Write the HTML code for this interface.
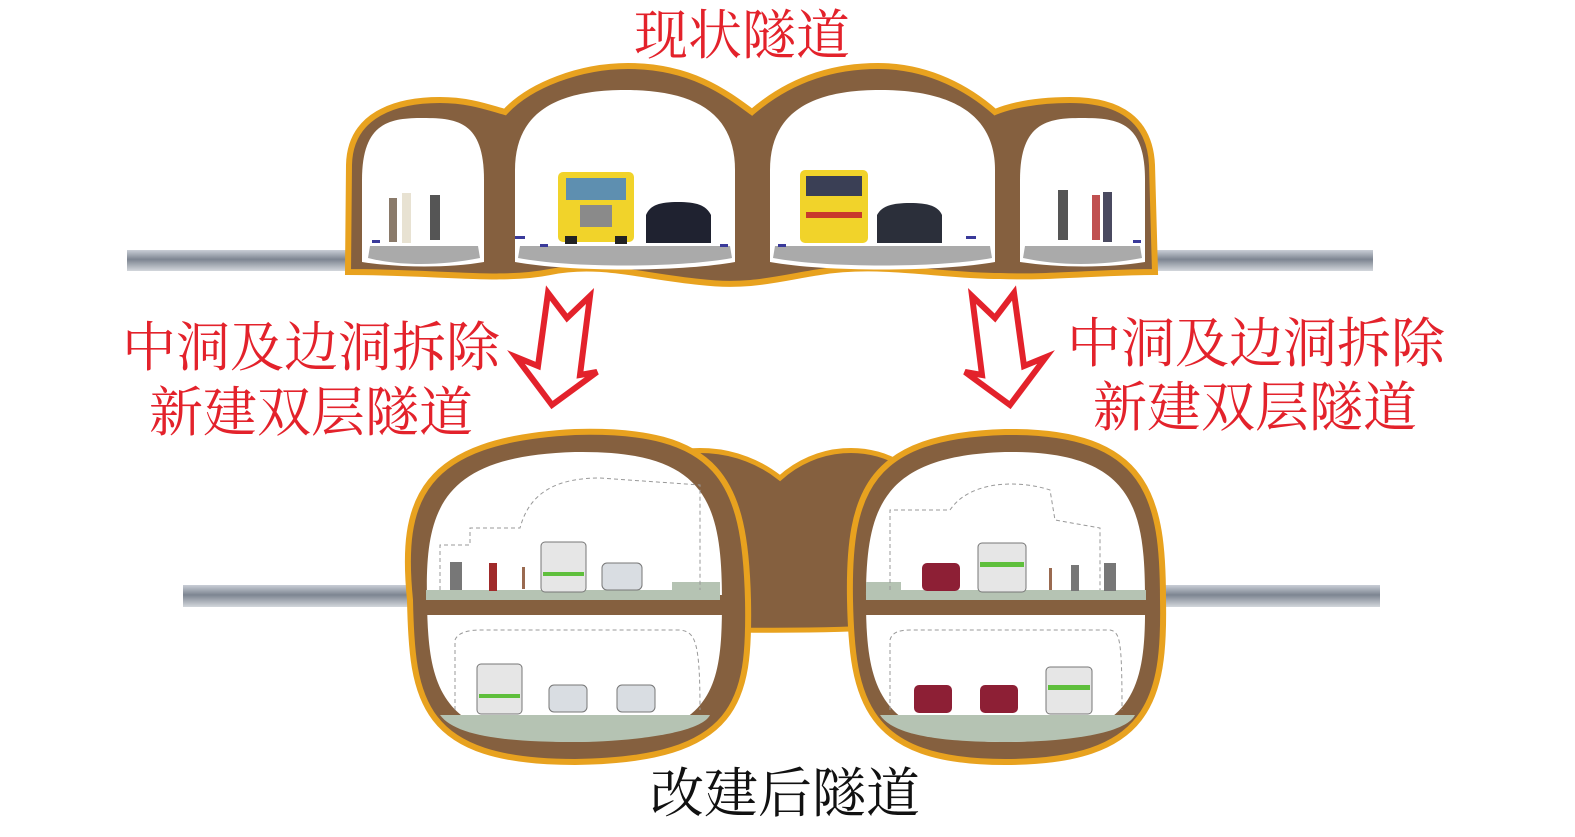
<!DOCTYPE html>
<html><head><meta charset="utf-8"><style>
html,body{margin:0;padding:0;background:#fff;}
svg{display:block;}
.red{fill:#e3222b;font-family:"Liberation Serif","Noto Serif CJK SC",serif;}
</style></head><body>
<svg width="1575" height="837" viewBox="0 0 1575 837" xmlns="http://www.w3.org/2000/svg">
<defs>
<linearGradient id="pipe" x1="0" y1="0" x2="0" y2="1">
<stop offset="0" stop-color="#c9ced6"/><stop offset="0.45" stop-color="#7d8591"/><stop offset="1" stop-color="#d3d7dc"/>
</linearGradient>
</defs>
<rect x="127" y="250" width="225" height="21" fill="url(#pipe)"/>
<rect x="1150" y="250" width="223" height="21" fill="url(#pipe)"/>
<rect x="183" y="585" width="230" height="22" fill="url(#pipe)"/>
<rect x="1150" y="585" width="230" height="22" fill="url(#pipe)"/>

<path d="M348,272 L349,165 C350,115 395,100 440,100 C470,100 490,108 505,112 C530,85 580,66 628,66 C690,66 725,92 752,112 C780,88 820,66 878,66 C930,66 970,90 995,112 C1010,106 1035,100 1070,100 C1120,100 1150,120 1152,165 L1155,272 C1100,272 1050,278 1000,276 C940,276 880,262 820,272 C780,278 750,288 700,282 C640,276 600,262 550,272 C500,282 440,272 348,272 Z" fill="#85603f" stroke="#e8a21f" stroke-width="6"/>
<path d="M362,262 L362,180 C362,122 390,118 423,118 C458,118 484,122 484,180 L484,262 C450,268 400,268 362,262 Z" fill="#fff"/>
<path d="M515,262 L515,170 C515,110 560,90 625,90 C690,90 735,110 735,170 L735,262 C680,272 570,272 515,262 Z" fill="#fff"/>
<path d="M770,262 L770,170 C770,110 815,90 880,90 C945,90 995,110 995,170 L995,262 C940,272 825,272 770,262 Z" fill="#fff"/>
<path d="M1020,262 L1020,180 C1020,122 1048,118 1082,118 C1118,118 1145,122 1145,180 L1145,262 C1110,268 1060,268 1020,262 Z" fill="#fff"/>
<path d="M370,246 L478,246 L480,258 C440,266 400,266 368,258 Z" fill="#aaaaaa"/>
<path d="M520,246 L730,246 L732,258 C680,268 570,268 518,258 Z" fill="#aaaaaa"/>
<path d="M775,246 L990,246 L992,258 C940,268 825,268 773,258 Z" fill="#aaaaaa"/>
<path d="M1025,246 L1140,246 L1142,258 C1100,266 1060,266 1023,258 Z" fill="#aaaaaa"/>
<g fill="#3a3a9a"><rect x="372" y="240" width="8" height="3"/><rect x="515" y="236" width="10" height="3"/><rect x="540" y="244" width="8" height="3"/><rect x="720" y="244" width="8" height="3"/><rect x="778" y="244" width="8" height="3"/><rect x="966" y="236" width="10" height="3"/><rect x="1133" y="240" width="8" height="3"/></g>
<rect x="558" y="172" width="76" height="70" rx="5" fill="#f1d32a"/>
<rect x="566" y="178" width="60" height="22" fill="#5e8fb0"/>
<rect x="580" y="205" width="32" height="22" fill="#8a8a8a"/>
<rect x="565" y="236" width="12" height="8" fill="#222"/><rect x="615" y="236" width="12" height="8" fill="#222"/>
<path d="M646,243 L646,215 C650,205 660,202 678,202 C696,202 706,205 711,215 L711,243 Z" fill="#1f2230"/>
<rect x="800" y="170" width="68" height="73" rx="5" fill="#f1d32a"/>
<rect x="806" y="176" width="56" height="20" fill="#3a3f55"/>
<rect x="806" y="212" width="56" height="6" fill="#c8392c"/>
<path d="M877,243 L877,215 C882,206 892,203 910,203 C928,203 938,206 942,215 L942,243 Z" fill="#2b2f3a"/>
<g fill="#8a7a6a"><rect x="389" y="198" width="8" height="44"/><rect x="402" y="193" width="9" height="50" fill="#e8e2d2"/><rect x="430" y="195" width="10" height="45" fill="#555"/>
<rect x="1058" y="190" width="10" height="50" fill="#555"/><rect x="1092" y="195" width="8" height="45" fill="#c05050"/><rect x="1103" y="192" width="9" height="50" fill="#4a4a60"/></g>

<path d="M630,470 C680,440 740,446 780,478 C815,446 870,440 910,470 L910,625 C850,632 700,632 630,625 Z" fill="#85603f" stroke="#e8a21f" stroke-width="5"/>
<path d="M410,600 C400,500 420,440 575,432 C720,428 745,480 748,600 C750,700 740,760 575,762 C420,762 412,700 410,600 Z" fill="#85603f" stroke="#e8a21f" stroke-width="6"/>
<path d="M427,600 C425,510 440,456 575,452 C705,450 722,500 722,600 C722,690 715,740 575,742 C440,742 428,690 427,600 Z" fill="#fff"/>
<path d="M850,600 C848,490 870,436 1005,432 C1150,430 1163,500 1163,600 C1165,700 1150,762 1005,762 C865,762 852,700 850,600 Z" fill="#85603f" stroke="#e8a21f" stroke-width="6"/>
<path d="M866,600 C866,510 880,456 1005,452 C1135,450 1145,510 1145,600 C1146,690 1135,742 1005,742 C880,742 866,690 866,600 Z" fill="#fff"/>
<rect x="424" y="595" width="300" height="20" fill="#85603f"/>
<rect x="864" y="595" width="282" height="20" fill="#85603f"/>
<path d="M426,590 L720,590 L720,600 L426,600 Z" fill="#b5c3b3"/>
<rect x="672" y="582" width="48" height="10" fill="#b5c3b3"/>
<path d="M866,590 L1146,590 L1146,600 L866,600 Z" fill="#b5c3b3"/>
<rect x="866" y="582" width="35" height="10" fill="#b5c3b3"/>
<path d="M440,715 L710,715 C700,735 620,742 575,742 C500,742 455,735 440,715 Z" fill="#b5c3b3"/>
<path d="M880,715 L1135,715 C1125,735 1060,742 1005,742 C940,742 893,735 880,715 Z" fill="#b5c3b3"/>
<g fill="none" stroke="#999" stroke-width="1" stroke-dasharray="4,3">
<path d="M440,590 L440,545 L470,545 L470,528 L520,528 C530,490 560,478 600,478 L700,485 L700,590"/>
<path d="M455,710 L455,640 C458,632 470,630 480,630 L680,630 C695,632 700,640 700,710"/>
<path d="M890,590 L890,510 L950,510 C970,480 1020,480 1050,490 L1055,520 L1100,528 L1100,590"/>
<path d="M890,710 L890,640 C892,632 900,630 910,630 L1110,630 C1120,632 1122,640 1122,710"/>
</g>
<rect x="541" y="542" width="45" height="50" rx="4" fill="#e6e6e6" stroke="#777"/><rect x="543" y="572" width="41" height="4" fill="#5fbf3c"/>
<rect x="602" y="563" width="40" height="27" rx="5" fill="#d9dde2" stroke="#777"/>
<rect x="477" y="664" width="45" height="50" rx="4" fill="#e6e6e6" stroke="#777"/><rect x="479" y="694" width="41" height="4" fill="#5fbf3c"/>
<rect x="549" y="685" width="38" height="27" rx="5" fill="#d9dde2" stroke="#777"/>
<rect x="617" y="685" width="38" height="27" rx="5" fill="#d9dde2" stroke="#777"/>
<rect x="922" y="563" width="38" height="28" rx="5" fill="#8d1f35"/>
<rect x="978" y="543" width="48" height="49" rx="4" fill="#e6e6e6" stroke="#777"/><rect x="980" y="562" width="44" height="5" fill="#5fbf3c"/>
<rect x="914" y="685" width="38" height="28" rx="5" fill="#8d1f35"/>
<rect x="980" y="685" width="38" height="28" rx="5" fill="#8d1f35"/>
<rect x="1046" y="667" width="46" height="47" rx="4" fill="#e6e6e6" stroke="#777"/><rect x="1048" y="685" width="42" height="5" fill="#5fbf3c"/>
<g fill="#777"><rect x="450" y="562" width="12" height="28"/><rect x="489" y="563" width="8" height="28" fill="#a02a2a"/><rect x="1071" y="565" width="8" height="26"/><rect x="1104" y="563" width="12" height="28"/><rect x="522" y="567" width="3" height="22" fill="#9a6a50"/><rect x="1049" y="568" width="3" height="22" fill="#9a6a50"/></g>

<g fill="#fff" stroke="#e3222b" stroke-width="6" stroke-linejoin="miter">
<polygon points="548,293 567,318 590,296 580,375 597,372 552,405 516,357 538,366"/>
<polygon points="1014,293 995,318 972,296 982,375 965,372 1010,405 1046,357 1024,366"/>
</g>

<text x="742" y="54" class="red" font-size="54" text-anchor="middle">现状隧道</text>
<text x="311" y="366" class="red" font-size="54" text-anchor="middle">中洞及边洞拆除</text>
<text x="311" y="431" class="red" font-size="54" text-anchor="middle">新建双层隧道</text>
<text x="1256" y="362" class="red" font-size="54" text-anchor="middle">中洞及边洞拆除</text>
<text x="1255" y="426" class="red" font-size="54" text-anchor="middle">新建双层隧道</text>
<text x="785" y="812" font-size="54" text-anchor="middle" fill="#111" font-family="'Liberation Serif','Noto Serif CJK SC',serif">改建后隧道</text>
</svg>
</body></html>
